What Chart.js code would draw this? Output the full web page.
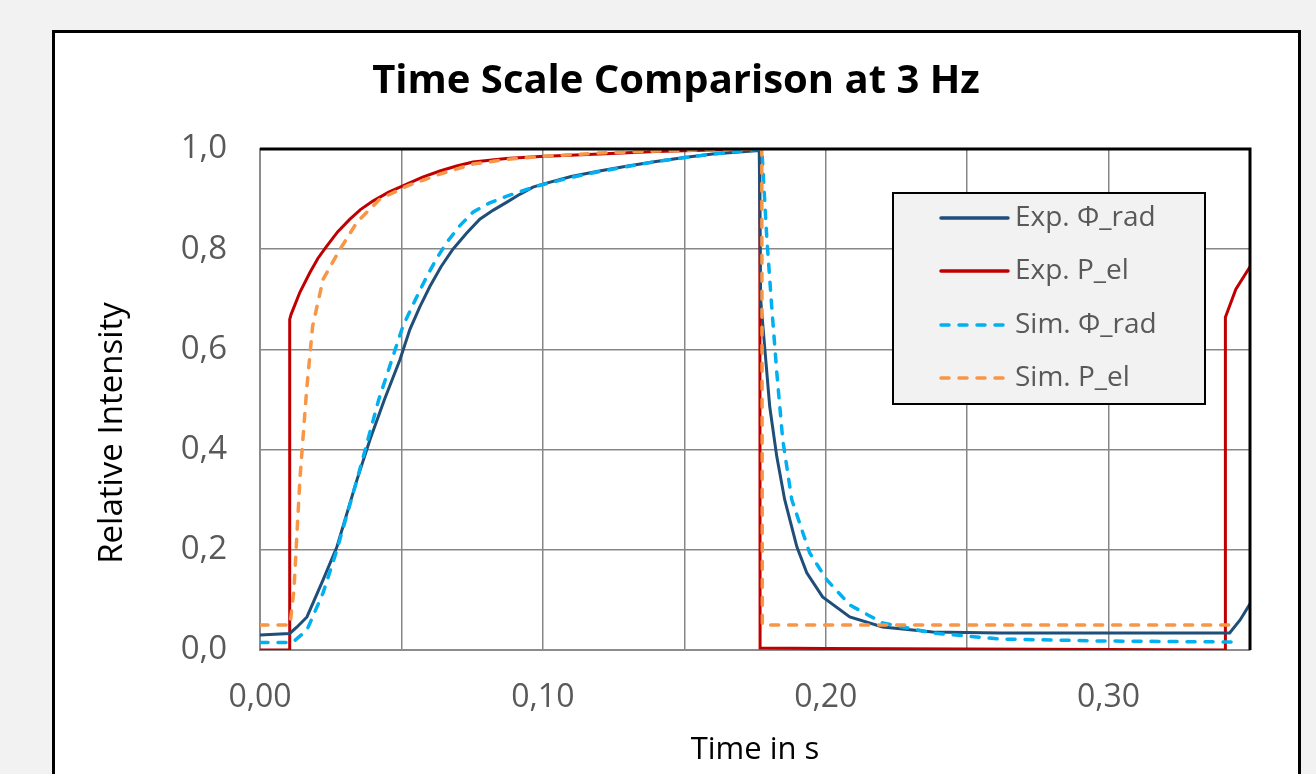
<!DOCTYPE html>
<html>
<head>
<meta charset="utf-8">
<script src="https://cdn.jsdelivr.net/npm/chart.js"></script>
<style>
    body { margin: 0; background: #f2f2f2; }
    #wrap { width: 1316px; height: 774px; }
</style>
</head>
<body>
<div id="wrap"><canvas id="timeGraph" width="1316" height="774"></canvas></div>
<script>
// data (time in s, relative intensity)
var expRadT = [0, 0.0105, 0.0131, 0.0166, 0.0223, 0.0272, 0.0343, 0.0389, 0.0440, 0.0495, 0.0530, 0.0565, 0.0601, 0.0640, 0.0682, 0.0730, 0.0777, 0.0825, 0.0873, 0.0920, 0.0965, 0.1, 0.11, 0.12, 0.13, 0.14, 0.15, 0.16, 0.1765, 0.1770, 0.1784, 0.1802, 0.1827, 0.1855, 0.1898, 0.1933, 0.1989, 0.2085, 0.2201, 0.2378, 0.2615, 0.2968, 0.3428, 0.3465, 0.35];
var expRadV = [0.03, 0.033, 0.046, 0.066, 0.14, 0.206, 0.34, 0.42, 0.50, 0.58, 0.64, 0.685, 0.726, 0.765, 0.80, 0.832, 0.86, 0.878, 0.894, 0.91, 0.924, 0.93, 0.945, 0.956, 0.966, 0.975, 0.983, 0.99, 0.997, 0.70, 0.606, 0.486, 0.386, 0.30, 0.206, 0.154, 0.106, 0.066, 0.046, 0.036, 0.034, 0.034, 0.034, 0.06, 0.092];

var expPelT = [0, 0.0104, 0.0105, 0.0110, 0.0141, 0.0177, 0.0205, 0.0236, 0.0275, 0.0318, 0.0355, 0.0399, 0.0455, 0.0519, 0.0575, 0.0636, 0.0695, 0.0753, 0.0870, 0.0989, 0.12, 0.14, 0.16, 0.1767, 0.1768, 0.20, 0.25, 0.30, 0.3412, 0.3413, 0.345, 0.35];
var expPelV = [0, 0, 0.66, 0.67, 0.714, 0.754, 0.782, 0.806, 0.835, 0.86, 0.879, 0.896, 0.914, 0.93, 0.944, 0.956, 0.966, 0.974, 0.981, 0.985, 0.99, 0.995, 0.998, 1.0, 0.004, 0.003, 0.002, 0.001, 0.0, 0.664, 0.72, 0.765];

var simRadT = [0, 0.011, 0.0117, 0.0166, 0.0223, 0.0272, 0.0343, 0.0420, 0.0505, 0.0550, 0.0590, 0.0625, 0.0661, 0.0705, 0.0753, 0.0810, 0.0873, 0.0979, 0.11, 0.12, 0.14, 0.16, 0.1774, 0.1792, 0.1809, 0.1827, 0.1848, 0.188, 0.1943, 0.2004, 0.2085, 0.2201, 0.2378, 0.2615, 0.2968, 0.3445];
var simRadV = [0.015, 0.015, 0.016, 0.04, 0.114, 0.2, 0.34, 0.50, 0.646, 0.70, 0.746, 0.782, 0.814, 0.846, 0.874, 0.892, 0.906, 0.926, 0.943, 0.955, 0.975, 0.99, 1.0, 0.82, 0.686, 0.554, 0.42, 0.30, 0.194, 0.14, 0.09, 0.054, 0.034, 0.022, 0.018, 0.016];

var simPelT = [0, 0.0106, 0.0120, 0.0141, 0.0165, 0.0186, 0.0223, 0.0283, 0.0343, 0.0424, 0.0519, 0.0636, 0.0753, 0.0870, 0.0989, 0.12, 0.14, 0.16, 0.1774, 0.1776, 0.20, 0.25, 0.30, 0.3428];
var simPelV = [0.05, 0.05, 0.12, 0.34, 0.52, 0.646, 0.74, 0.80, 0.854, 0.90, 0.926, 0.95, 0.97, 0.979, 0.985, 0.992, 0.996, 0.999, 1.0, 0.05, 0.05, 0.05, 0.05, 0.05];

var seriesNames = ['Exp. Φ_rad', 'Exp. P_el', 'Sim. Φ_rad', 'Sim. P_el'];

function toPoints(t, v) {
    return t.map(function (x, i) { return {x: x, y: v[i]}; });
}

var FONT = "'Open Sans', 'DejaVu Sans', sans-serif";

//背景と外枠、タイトル
var frame = {
    id: 'frame',
    beforeDraw: function (chart) {
        var c = chart.ctx;
        c.save();
        c.fillStyle = '#f2f2f2';
        c.fillRect(0, 0, chart.width, chart.height);
        c.fillStyle = '#ffffff';
        c.fillRect(53, 31, 1246, 760);
        c.strokeStyle = '#000000';
        c.lineWidth = 3;
        c.strokeRect(53.5, 31.5, 1246, 760);
        c.fillStyle = '#000000';
        c.font = 'bold 40px ' + FONT;
        c.textAlign = 'center';
        c.textBaseline = 'middle';
        c.fillText('Time Scale Comparison at 3 Hz', 676, 82);

        // y axis title, sits a bit below the plot centre like in the original
        c.translate(113, 433);
        c.rotate(-Math.PI / 2);
        c.font = '33px ' + FONT;
        c.fillText('Relative Intensity', 0, 0);
        c.restore();
    },
    afterDraw: function (chart) {
        var a = chart.chartArea;
        var c = chart.ctx;
        c.save();
        // top and right edges of the plot area are black
        c.strokeStyle = '#000000';
        c.lineWidth = 3;
        c.beginPath();
        c.moveTo(a.left, a.top);
        c.lineTo(a.right, a.top);
        c.lineTo(a.right, a.bottom);
        c.stroke();

        // legend box
        var bx = 893, by = 193, bw = 312, bh = 211;
        c.fillStyle = '#f2f2f2';
        c.fillRect(bx, by, bw, bh);
        c.strokeStyle = '#000000';
        c.lineWidth = 2;
        c.strokeRect(bx, by, bw, bh);
        var rows = [218, 271, 325, 378];
        chart.data.datasets.forEach(function (ds, i) {
            c.strokeStyle = ds.borderColor;
            c.lineWidth = 3.5;
            c.lineCap = 'round';
            c.setLineDash(ds.borderDash || []);
            c.beginPath();
            c.moveTo(941, rows[i]);
            c.lineTo(1008, rows[i]);
            c.stroke();
            c.setLineDash([]);
            c.fillStyle = '#595959';
            c.font = '28px ' + FONT;
            c.textAlign = 'left';
            c.textBaseline = 'middle';
            c.fillText(ds.label, 1015, rows[i]);
        });
        c.restore();
    }
};

var ctx = document.getElementById('timeGraph');

new Chart(ctx, {
    type: 'scatter',
    data: {
        datasets: [{
            label: seriesNames[0],
            data: toPoints(expRadT, expRadV),
            borderColor: '#1f4e79',
            borderWidth: 3,
            order: 2
        }, {
            label: seriesNames[1],
            data: toPoints(expPelT, expPelV),
            borderColor: '#c00000',
            borderWidth: 3,
            order: 3
        }, {
            label: seriesNames[2],
            data: toPoints(simRadT, simRadV),
            borderColor: '#00b0f0',
            borderWidth: 3.5,
            borderDash: [8, 10],
            borderCapStyle: 'round',
            order: 1
        }, {
            label: seriesNames[3],
            data: toPoints(simPelT, simPelV),
            borderColor: '#f79646',
            borderWidth: 3.5,
            borderDash: [8, 10],
            borderCapStyle: 'round',
            order: 0
        }].map(function (d) {
            d.showLine = true;
            d.pointRadius = 0;
            d.tension = 0;
            d.fill = false;
            return d;
        })
    },
    options: {
        responsive: false,
        animation: false,
        events: [],
        layout: { padding: { left: 95, top: 149, right: 66, bottom: 5 } },
        plugins: {
            legend: { display: false },
            title: { display: false },
            tooltip: { enabled: false }
        },
        scales: {
            x: {
                type: 'linear',
                min: 0,
                max: 0.35,
                afterFit: function (s) { s.height = 119; },
                afterBuildTicks: function (s) {
                    var t = [];
                    for (var i = 0; i <= 7; i++) t.push({value: i * 0.05});
                    s.ticks = t;
                },
                ticks: {
                    padding: 29,
                    color: '#595959',
                    font: { family: FONT, size: 32 },
                    maxRotation: 0,
                    autoSkip: false,
                    callback: function (v) {
                        var k = Math.round(v * 100);
                        if (k % 10 !== 0) return '';
                        return (k / 100).toFixed(2).replace('.', ',');
                    }
                },
                grid: { color: '#878787', lineWidth: 1.5, drawTicks: false },
                border: { color: '#8c8c8c', width: 2 },
                title: {
                    display: true,
                    text: 'Time in s',
                    color: '#000000',
                    font: { family: FONT, size: 31 },
                    padding: 0
                }
            },
            y: {
                min: 0,
                max: 1,
                afterFit: function (s) { s.width = 165; },
                ticks: {
                    stepSize: 0.2,
                    padding: 33,
                    color: '#595959',
                    font: { family: FONT, size: 33 },
                    callback: function (v) { return v.toFixed(1).replace('.', ','); }
                },
                grid: { color: '#878787', lineWidth: 1.5, drawTicks: false },
                border: { color: '#8c8c8c', width: 2 }
            }
        }
    },
    plugins: [frame]
});
</script>
</body>
</html>
